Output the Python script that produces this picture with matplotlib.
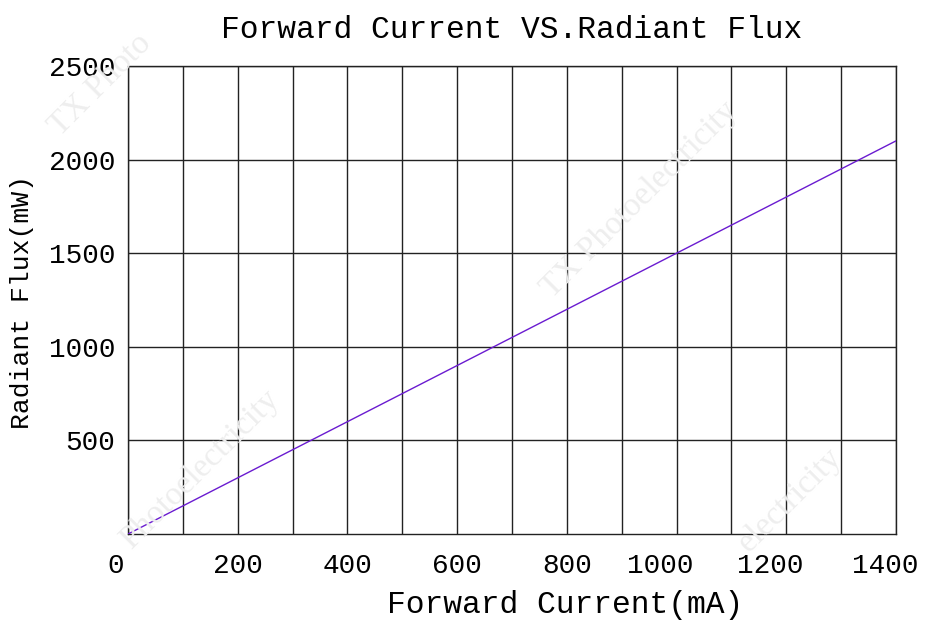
import matplotlib
matplotlib.use("Agg")
import matplotlib.pyplot as plt
import matplotlib.transforms as mtransforms

# Data
current_mA = [0, 1000, 1400]
flux_mW = [0, 1500, 2100]
x_ticks = [0, 200, 400, 600, 800, 1000, 1200, 1400]
x_tick_labels = ["0", "200", "400", "600", "800", "1000", "1200", "1400"]
y_ticks = [500, 1000, 1500, 2000, 2500]
y_tick_labels = ["500", "1000", "1500", "2000", "2500"]
title = "Forward Current VS.Radiant Flux"
x_label = "Forward Current(mA)"
y_label = "Radiant Flux(mW)"
watermarks = ["TX Photo", "TX Photoelectricity", "Photoelectricity", "electricity"]

FONT = ["Liberation Mono", "DejaVu Sans Mono"]

fig = plt.figure(figsize=(9.31, 6.24), dpi=100)
W, H = 931, 624
ax = fig.add_axes([128 / W, (H - 534) / H, (896 - 128) / W, (534 - 66) / H])

# faint watermarks
wm_kw = dict(color="#eeeeee", fontsize=24, rotation=45, family=["Liberation Serif"],
             ha="center", va="center", zorder=0)
wm_pos = [(100, 85), (640, 200), (200, 470), (790, 500)]
for txt, (px, py) in zip(watermarks, wm_pos):
    fig.text(px / W, 1 - py / H, txt, **wm_kw)

ax.set_facecolor("none")
ax.plot(current_mA, flux_mW, color="#6a1bd0", lw=1.0, zorder=3)

ax.set_xlim(0, 1400)
ax.set_ylim(0, 2500)

ax.set_xticks(x_ticks)
ax.set_xticks(range(100, 1400, 200), minor=True)
ax.set_xticklabels(x_tick_labels, family=FONT, fontsize=20)
ax.set_yticks(y_ticks)
ax.set_yticklabels(y_tick_labels, family=FONT, fontsize=20)
ax.grid(True, which="major", color="#222222", lw=1.0)
ax.grid(True, which="minor", axis="x", color="#222222", lw=1.0)
ax.tick_params(which="both", length=0)
ax.tick_params(axis="x", pad=14)
ax.tick_params(axis="y", pad=9)

shifts = {"0": -12, "1000": -16, "1200": -16, "1400": -11}
for lab in ax.get_xticklabels():
    dx = shifts.get(lab.get_text(), 0)
    if dx:
        lab.set_transform(lab.get_transform() + mtransforms.ScaledTranslation(dx / 100, 0, fig.dpi_scale_trans))

for s in ax.spines.values():
    s.set_color("#222222")
    s.set_linewidth(1.0)

fig.text(512 / W, 1 - 30 / H, title, family=FONT, fontsize=22.5, ha="center", va="center")
fig.text(565 / W, 1 - 605 / H, x_label, family=FONT, fontsize=22.5, ha="center", va="center")
fig.text(22 / W, 1 - 302 / H, y_label, family=FONT, fontsize=19, ha="center", va="center", rotation=90)

fig.savefig("out.png", dpi=100)
